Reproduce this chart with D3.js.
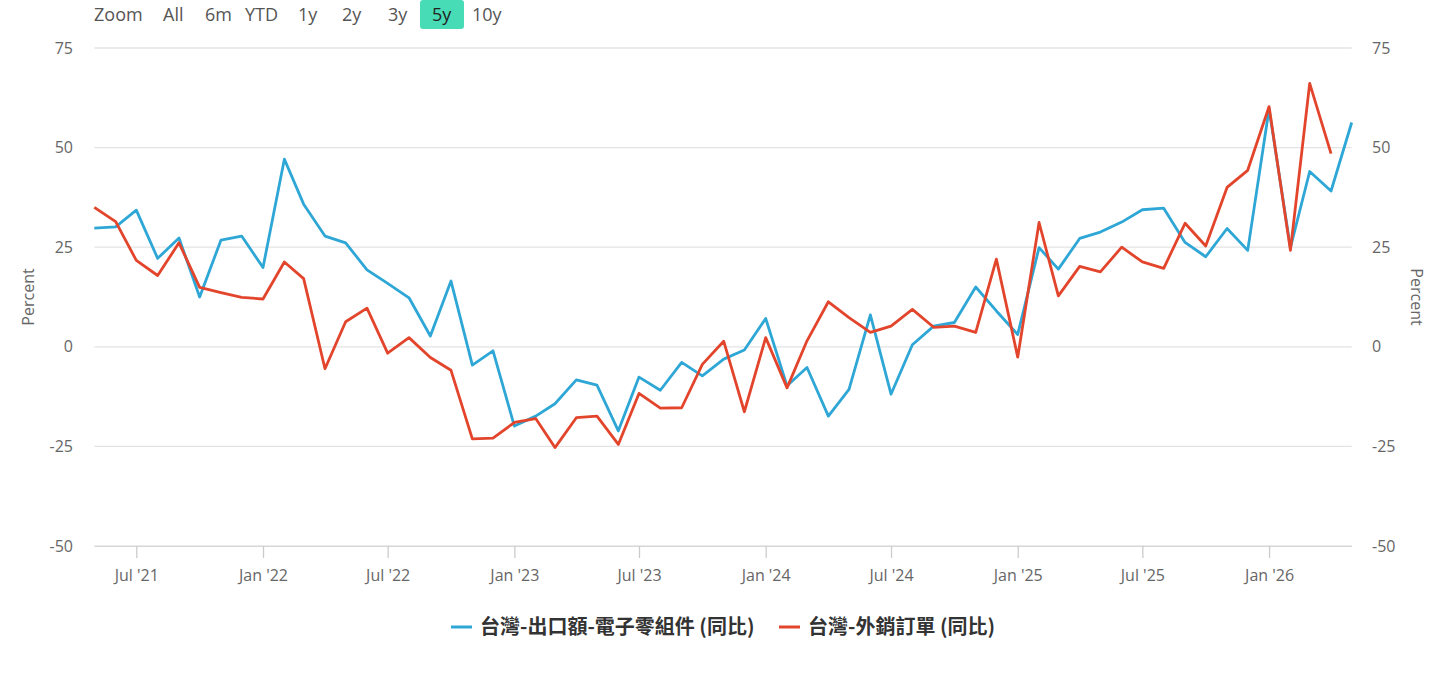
<!DOCTYPE html>
<html><head><meta charset="utf-8">
<script src="https://cdn.jsdelivr.net/npm/d3@7/dist/d3.min.js"></script>
<style>
html,body{margin:0;padding:0;background:#fff;}
svg{display:block;font-family:"Open Sans","Noto Sans",sans-serif;}
</style></head>
<body>
<svg id="chart" width="1456" height="675"></svg>
<script>
// Months: May 2021 .. May 2026
const startMonth = "2021-05";
const electronicsExports = [29.8,30.1,34.3,22.2,27.3,12.5,26.8,27.8,19.9,47.1,35.8,27.8,26.1,19.3,15.9,12.3,2.7,16.5,-4.6,-1.0,-19.9,-17.4,-14.3,-8.3,-9.6,-21.1,-7.6,-10.9,-3.9,-7.3,-3.1,-0.8,7.1,-9.8,-5.2,-17.4,-10.7,8.0,-11.9,0.5,5.2,6.1,15.0,9.0,3.1,24.9,19.5,27.2,28.8,31.3,34.4,34.8,26.2,22.6,29.7,24.2,59.7,24.9,44.0,39.1,56.3];
const exportOrders = [35.0,31.4,21.7,17.9,26.1,14.9,13.6,12.4,12.0,21.3,17.1,-5.5,6.3,9.7,-1.6,2.3,-2.7,-5.9,-23.1,-22.9,-19.0,-18.0,-25.3,-17.8,-17.4,-24.5,-11.7,-15.4,-15.3,-4.4,1.4,-16.3,2.3,-10.3,1.5,11.3,7.3,3.6,5.2,9.4,4.9,5.2,3.6,22.0,-2.6,31.2,12.8,20.2,18.8,25.0,21.3,19.7,31.0,25.3,40.0,44.3,60.3,24.2,66.1,48.5];
const seriesNames = ["台灣-出口額-電子零組件 (同比)","台灣-外銷訂單 (同比)"];
const seriesColors = ["#2ea7d6","#e2452c"];
const yTicks = [-50,-25,0,25,50,75];
const zoomLabels = ["All","6m","YTD","1y","2y","3y","5y","10y"];
const selectedZoom = "5y";

const parse = d3.timeParse("%Y-%m");
const t0 = parse(startMonth);
const toPoints = arr => arr.map((v,i)=>({date:d3.timeMonth.offset(t0,i), value:v}));
const s1 = toPoints(electronicsExports), s2 = toPoints(exportOrders);

const svg = d3.select("#chart");
const x = d3.scaleTime().domain([t0, d3.timeMonth.offset(t0,60)]).range([94.3,1351.7]);
const y = d3.scaleLinear().domain([-50,75]).range([546,48]);

// range selector
const zg = svg.append("g");
zg.append("text").attr("x",94).attr("y",21).attr("font-size",18).attr("fill","#555").text("Zoom");
const zx = [163,205,245,298,342,388,432,472];
zoomLabels.forEach((l,i)=>{
  if(l===selectedZoom){
    zg.append("rect").attr("x",zx[i]-12).attr("y",0).attr("width",44).attr("height",29).attr("rx",3).attr("fill","#48dcb6");
  }
  zg.append("text").attr("x",zx[i]).attr("y",21).attr("font-size",18).attr("fill",l===selectedZoom?"#222":"#555").text(l);
});

// grid
svg.append("g").selectAll("line").data(yTicks).join("line")
  .attr("x1",94.3).attr("x2",1351.7).attr("y1",d=>y(d)).attr("y2",d=>y(d))
  .attr("stroke","#e3e3e3").attr("stroke-width",1.3);

// y labels
svg.append("g").selectAll("text").data(yTicks).join("text")
  .attr("x",73).attr("y",d=>y(d)+5.5).attr("text-anchor","end").attr("font-size",16).attr("fill","#666").text(d=>d);
svg.append("g").selectAll("text").data(yTicks).join("text")
  .attr("x",1372).attr("y",d=>y(d)+5.5).attr("text-anchor","start").attr("font-size",16).attr("fill","#666").text(d=>d);
svg.append("text").attr("transform","translate(34,297) rotate(-90)").attr("text-anchor","middle").attr("font-size",16).attr("fill","#666").text("Percent");
svg.append("text").attr("transform","translate(1411,297) rotate(90)").attr("text-anchor","middle").attr("font-size",16).attr("fill","#666").text("Percent");

// x axis
const xAxis = d3.axisBottom(x).ticks(d3.timeMonth.every(6)).tickSize(12).tickSizeOuter(0).tickPadding(12)
  .tickFormat(d=>d3.timeFormat("%b '%y")(d));
const xg = svg.append("g").attr("transform","translate(0,546)").call(xAxis);
xg.select(".domain").attr("stroke","#d6d6d6");
xg.selectAll(".tick line").attr("stroke","#ccc").attr("stroke-width",1.3);
xg.selectAll(".tick text").attr("font-size",16).attr("fill","#666").attr("font-family","'Open Sans',sans-serif");

// lines
const line = d3.line().x(d=>x(d.date)).y(d=>y(d.value));
[s1,s2].forEach((s,i)=>{
  svg.append("path").datum(s).attr("d",line).attr("fill","none")
    .attr("stroke",seriesColors[i]).attr("stroke-width",2.8).attr("stroke-linejoin","round");
});

// legend
const lg = svg.append("g");
const lx = [451,779];
seriesNames.forEach((n,i)=>{
  lg.append("line").attr("x1",lx[i]).attr("x2",lx[i]+21).attr("y1",627).attr("y2",627)
    .attr("stroke",seriesColors[i]).attr("stroke-width",3);
  lg.append("text").attr("x",lx[i]+29).attr("y",634).attr("font-size",20).attr("font-weight","bold")
    .attr("fill","#333").attr("font-family","'Noto Sans CJK TC','Open Sans',sans-serif").text(n);
});
</script>
</body></html>
